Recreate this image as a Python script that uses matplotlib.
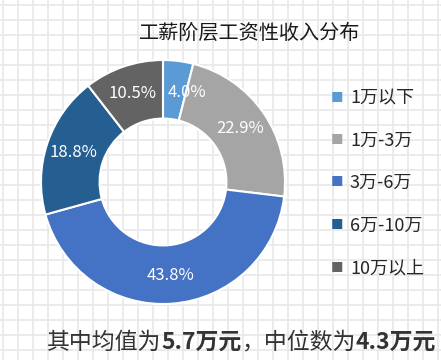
import matplotlib
matplotlib.use("Agg")
import matplotlib.pyplot as plt
import numpy as np

plt.rcParams["font.family"] = ["Noto Sans CJK SC", "DejaVu Sans"]

# data
categories = ["1万以下", "1万-3万", "3万-6万", "6万-10万", "10万以上"]
shares = [4.0, 22.9, 43.8, 18.8, 10.5]
colors = ["#5B9BD5", "#A5A5A5", "#4472C4", "#255E91", "#636363"]
title = "工薪阶层工资性收入分布"
footer_parts = [("其中均值为", "normal"), ("5.7万元", "bold"), ("，中位数为", "normal"), ("4.3万元", "bold")]

W, H = 441, 360
fig = plt.figure(figsize=(W / 100, H / 100), dpi=100)
fig.patch.set_facecolor("white")

# graph-paper background
bg = fig.add_axes([0, 0, 1, 1])
bg.set_xlim(0, W)
bg.set_ylim(H, 0)
bg.set_xticks(np.arange(3, W, 15))
bg.set_yticks(np.arange(5, H, 15))
bg.grid(True, color="#e9e9e9", linewidth=1.3)
bg.tick_params(length=0, labelbottom=False, labelleft=False)
for s in bg.spines.values():
    s.set_visible(False)

# donut
cx, cy, r = 163, 182, 122
ax = fig.add_axes([(cx - r) / W, (H - cy - r) / H, 2 * r / W, 2 * r / H])
wedges, _, autotexts = ax.pie(
    shares, colors=colors, startangle=90, counterclock=False,
    autopct="%.1f%%", pctdistance=0.77,
    wedgeprops=dict(width=0.48, edgecolor="white", linewidth=1.5),
    textprops=dict(color="white", fontsize=12),
)
# small slice label sits a bit off-centre in the original
px, py = autotexts[0].get_position()
autotexts[0].set_position((px + 0.1, py - 0.03))
ax.set_xlim(-1, 1)
ax.set_ylim(-1, 1)
ax.set_aspect("equal")
ax.axis("off")

fig.text(250 / W, 1 - 33 / H, title, ha="center", va="center", fontsize=14.5, color="#1a1a1a")

# legend
leg_y0, leg_dy = 98, 42.5
for i, (lab, col) in enumerate(zip(categories, colors)):
    y = 1 - (leg_y0 + i * leg_dy) / H
    fig.text(337 / W, y, "■", ha="center", va="center", fontsize=9, color=col)
    fig.text(350 / W, y, lab, ha="left", va="center", fontsize=13, color="#262626")

# footer with mixed weights
renderer = fig.canvas.get_renderer()
x = 47
for txt, wt in footer_parts:
    t = fig.text(x / W, 1 - 342 / H, txt, ha="left", va="center", fontsize=16.5,
                 fontweight=wt, color="#333333")
    x += t.get_window_extent(renderer).width

fig.savefig("out.png", dpi=100, facecolor="white")
